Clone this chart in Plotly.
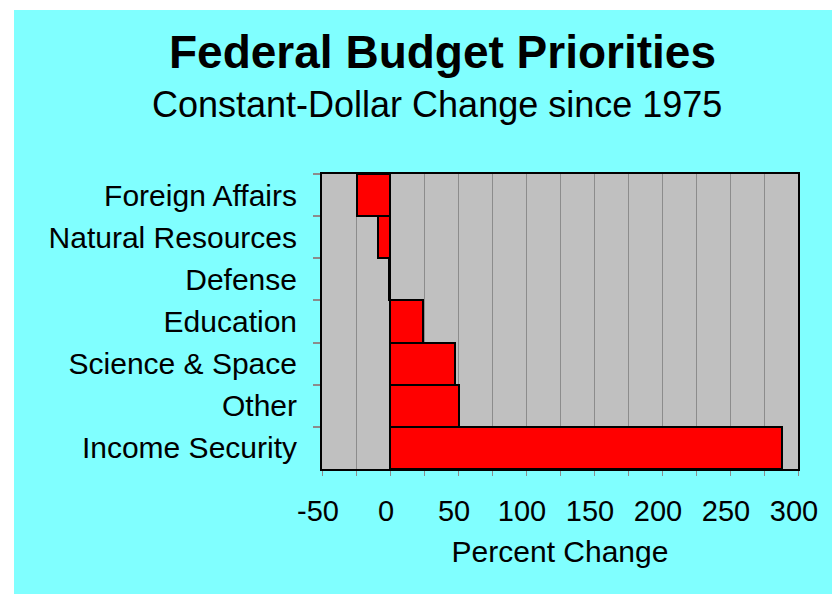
import plotly.graph_objects as go

categories = ["Foreign Affairs", "Natural Resources", "Defense", "Education",
              "Science & Space", "Other", "Income Security"]
values = [-24, -9, -1, 24, 48, 51, 288]
x_tickvals = [-50, 0, 50, 100, 150, 200, 250, 300]

W, H = 832, 594
L, R, T, B = 322, 34, 174, 125
PW, PH = W - L - R, H - T - B

def px_x(px):
    return (px - L) / PW

def px_y(py):
    return (H - B - py) / PH

FONT = "Arial, Liberation Sans, sans-serif"

fig = go.Figure()
fig.add_trace(go.Bar(
    y=categories, x=values, orientation="h",
    marker=dict(color="#FF0000", line=dict(color="black", width=2)),
    width=1.0,
))

fig.update_layout(
    width=W, height=H,
    margin=dict(l=L, r=R, t=T, b=B, pad=0),
    paper_bgcolor="#80FFFF",
    plot_bgcolor="#C0C0C0",
    showlegend=False,
    bargap=0,
    font=dict(family=FONT, color="black", size=29),
    xaxis=dict(
        range=[-50, 300], tickvals=x_tickvals, ticktext=[str(v) for v in x_tickvals],
        showgrid=True, gridcolor="#8C8C8C", gridwidth=1,
        ticks="outside", ticklen=5, tickcolor="#8C8C8C",
        minor=dict(dtick=25, showgrid=True, gridcolor="#8C8C8C", gridwidth=1,
                   ticks="outside", ticklen=5, tickcolor="#8C8C8C"),
        showline=True, linecolor="black", linewidth=2, mirror=True,
        zeroline=False,
        tickfont=dict(size=29, family=FONT),
        ticklabelstandoff=10,
        ticklabelshift=-4,
        title=dict(text="Percent Change", font=dict(size=30, family=FONT), standoff=15),
    ),
    yaxis=dict(
        categoryorder="array", categoryarray=categories, autorange="reversed",
        showgrid=False, tickson="boundaries",
        ticks="outside", ticklen=7, tickcolor="#8C8C8C", tickwidth=2,
        showline=True, linecolor="black", linewidth=2, mirror=True,
        tickfont=dict(size=30, family=FONT),
        ticklabelstandoff=17,
    ),
    shapes=[
        dict(type="rect", xref="paper", yref="paper",
             x0=px_x(0), x1=px_x(14), y0=px_y(H), y1=px_y(0),
             fillcolor="white", line=dict(width=0), layer="above"),
        dict(type="rect", xref="paper", yref="paper",
             x0=px_x(0), x1=px_x(W), y0=px_y(10), y1=px_y(0),
             fillcolor="white", line=dict(width=0), layer="above"),
    ],
    annotations=[
        dict(text="<b>Federal Budget Priorities</b>", xref="paper", yref="paper",
             x=px_x(442), y=px_y(52), xanchor="center", yanchor="middle",
             showarrow=False, font=dict(size=46, family=FONT, color="black")),
        dict(text="Constant-Dollar Change since 1975", xref="paper", yref="paper",
             x=px_x(437), y=px_y(105), xanchor="center", yanchor="middle",
             showarrow=False, font=dict(size=36, family=FONT, color="black")),
    ],
)

fig.write_html("out.html")
